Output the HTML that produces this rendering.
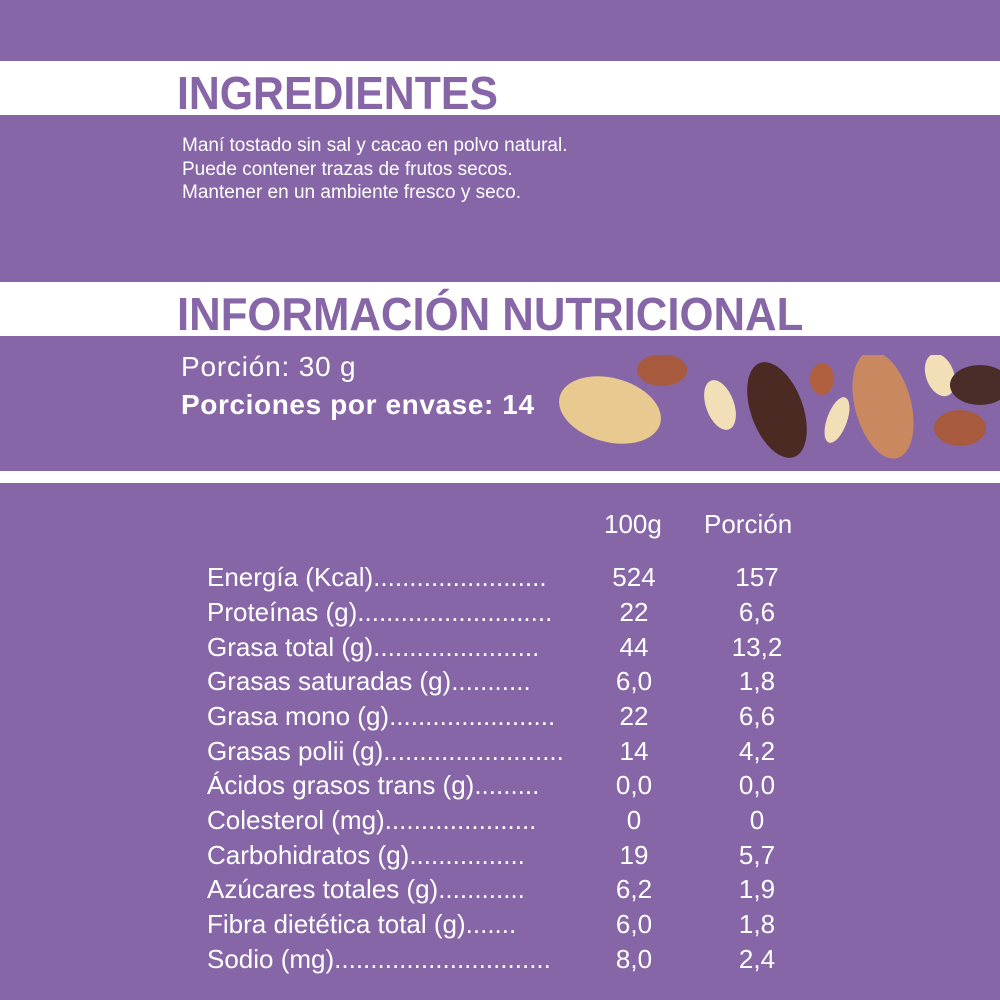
<!DOCTYPE html>
<html><head><meta charset="utf-8"><style>
body{margin:0;width:1000px;height:1000px;background:#8766a8;position:relative;overflow:hidden;font-family:"Liberation Sans",sans-serif;color:#fff}
.band{position:absolute;left:0;width:1000px;background:#fff}
.h{position:absolute;color:#8766a8;font-size:46px;font-weight:bold;white-space:nowrap;transform-origin:0 0;line-height:1}
.t{position:absolute;white-space:nowrap;line-height:1}
.row{position:absolute;left:207px;font-size:26px;white-space:nowrap;line-height:1}
.c1,.c2{position:absolute;font-size:26px;width:80px;text-align:center;line-height:1}
.c1{left:594px}.c2{left:717px}
</style></head><body>
<div class="band" style="top:61px;height:54px"></div>
<div class="band" style="top:282px;height:54px"></div>
<div class="band" style="top:471px;height:12px"></div>
<div class="h" style="left:177px;top:70px;transform:scaleX(0.93)">INGREDIENTES</div>
<div class="h" style="left:177px;top:291px;transform:scaleX(0.95)">INFORMACIÓN NUTRICIONAL</div>
<div class="t" style="left:182px;top:134px;font-size:19px;line-height:23.5px">Maní tostado sin sal y cacao en polvo natural.<br>Puede contener trazas de frutos secos.<br>Mantener en un ambiente fresco y seco.</div>
<div class="t" style="left:181px;top:353px;font-size:28px;letter-spacing:0.8px">Porción: 30 g</div>
<div class="t" style="left:181px;top:391px;font-size:28px;font-weight:bold;letter-spacing:0.6px">Porciones por envase: 14</div>
<svg style="position:absolute;left:550px;top:355px" width="450" height="110">
<ellipse cx="60" cy="55" rx="52" ry="32" fill="#e8c98f" transform="rotate(15 60 55)"/>
<ellipse cx="112" cy="15" rx="25" ry="16" fill="#a85a3e"/>
<ellipse cx="170" cy="50" rx="14" ry="26" fill="#f2dfb8" transform="rotate(-20 170 50)"/>
<ellipse cx="227" cy="55" rx="26" ry="50" fill="#4a2a22" transform="rotate(-20 227 55)"/>
<ellipse cx="272" cy="24" rx="12" ry="16" fill="#b0603e"/>
<ellipse cx="287" cy="65" rx="10" ry="24" fill="#f2dfb8" transform="rotate(20 287 65)"/>
<ellipse cx="333" cy="50" rx="28" ry="55" fill="#c98860" transform="rotate(-15 333 50)"/>
<ellipse cx="390" cy="20" rx="14" ry="22" fill="#f2dfb8" transform="rotate(-20 390 20)"/>
<ellipse cx="430" cy="30" rx="30" ry="20" fill="#4a2c28"/>
<ellipse cx="410" cy="73" rx="26" ry="18" fill="#a85a3e"/>
</svg>
<div class="t" style="left:604px;top:511px;font-size:26px">100g</div>
<div class="t" style="left:704px;top:511px;font-size:26px">Porción</div>
<div class="row" style="top:564px">Energía (Kcal)........................</div><div class="c1" style="top:564px">524</div><div class="c2" style="top:564px">157</div>
<div class="row" style="top:599px">Proteínas (g)...........................</div><div class="c1" style="top:599px">22</div><div class="c2" style="top:599px">6,6</div>
<div class="row" style="top:634px">Grasa total (g).......................</div><div class="c1" style="top:634px">44</div><div class="c2" style="top:634px">13,2</div>
<div class="row" style="top:668px">Grasas saturadas (g)...........</div><div class="c1" style="top:668px">6,0</div><div class="c2" style="top:668px">1,8</div>
<div class="row" style="top:703px">Grasa mono (g).......................</div><div class="c1" style="top:703px">22</div><div class="c2" style="top:703px">6,6</div>
<div class="row" style="top:738px">Grasas polii (g).........................</div><div class="c1" style="top:738px">14</div><div class="c2" style="top:738px">4,2</div>
<div class="row" style="top:772px">Ácidos grasos trans (g).........</div><div class="c1" style="top:772px">0,0</div><div class="c2" style="top:772px">0,0</div>
<div class="row" style="top:807px">Colesterol (mg).....................</div><div class="c1" style="top:807px">0</div><div class="c2" style="top:807px">0</div>
<div class="row" style="top:842px">Carbohidratos (g)................</div><div class="c1" style="top:842px">19</div><div class="c2" style="top:842px">5,7</div>
<div class="row" style="top:876px">Azúcares totales (g)............</div><div class="c1" style="top:876px">6,2</div><div class="c2" style="top:876px">1,9</div>
<div class="row" style="top:911px">Fibra dietética total (g).......</div><div class="c1" style="top:911px">6,0</div><div class="c2" style="top:911px">1,8</div>
<div class="row" style="top:946px">Sodio (mg)..............................</div><div class="c1" style="top:946px">8,0</div><div class="c2" style="top:946px">2,4</div>
</body></html>
